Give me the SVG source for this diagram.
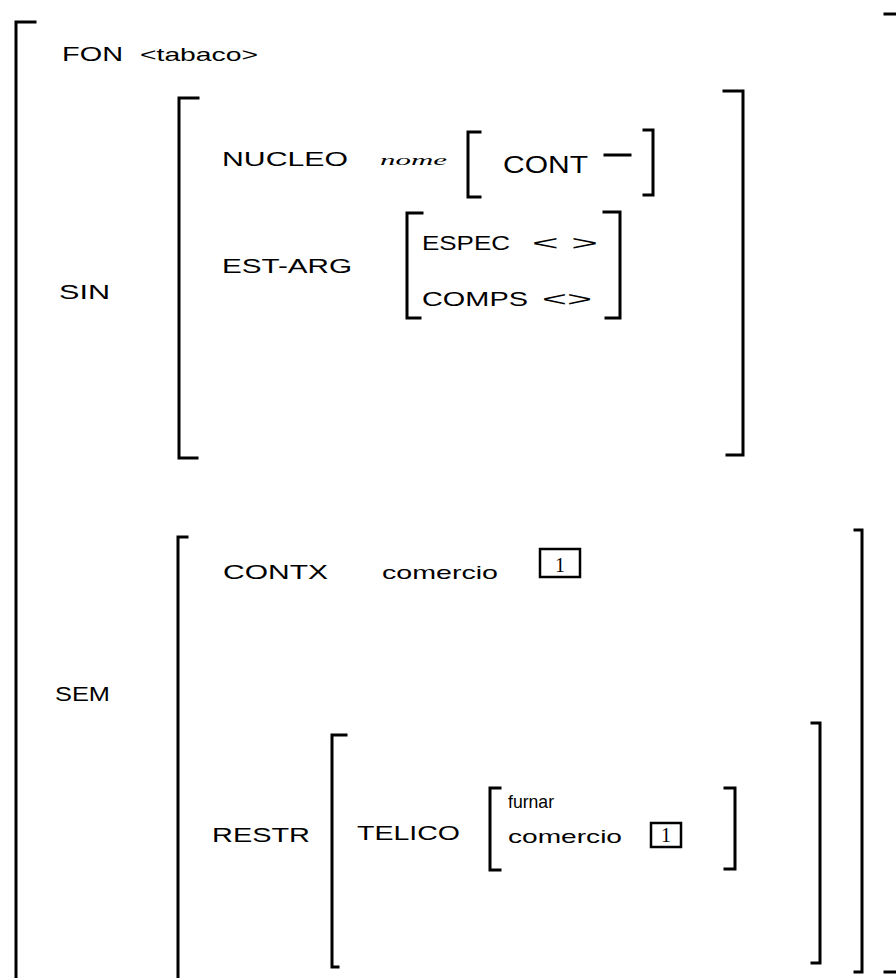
<svg xmlns="http://www.w3.org/2000/svg" width="896" height="978" viewBox="0 0 896 978">
<style>
.b{fill:none;stroke:#000;stroke-width:3;stroke-linecap:square}
.t{font-family:"Liberation Sans",Arial,sans-serif;font-size:21px;fill:#000}
.s{font-family:"Liberation Sans",Arial,sans-serif;font-size:19px;fill:#000}
.i{font-family:"Liberation Serif","Times New Roman",serif;font-style:italic;font-size:15px;fill:#000}
.n{font-family:"Liberation Serif","Times New Roman",serif;font-size:20px;fill:#000}
.box{fill:none;stroke:#000;stroke-width:2.5}
</style>
<rect width="896" height="978" fill="#fff"/>
<g id="outer">
<path class="b" d="M35 22H16V978"/>
<path class="b" d="M885 14H896"/>
<path class="b" d="M885 972H896"/>
</g>
<g id="fon">
<text class="t" x="62" y="61" textLength="61" lengthAdjust="spacingAndGlyphs">FON</text>
<text class="s" x="140" y="61" textLength="118" lengthAdjust="spacingAndGlyphs">&lt;tabaco&gt;</text>
</g>
<g id="sin">
<text class="t" x="59" y="299" textLength="51" lengthAdjust="spacingAndGlyphs">SIN</text>
<path class="b" d="M198 98H179V458H197"/>
<path class="b" d="M724 91H743V455H727"/>
</g>
<g id="nucleo">
<text class="t" x="222" y="166" textLength="126" lengthAdjust="spacingAndGlyphs">NUCLEO</text>
<text class="i" x="380" y="165" textLength="67" lengthAdjust="spacingAndGlyphs">nome</text>
<path class="b" d="M480 132H468V197H480"/>
<text class="t" x="503" y="173" style="font-size:24px" textLength="85" lengthAdjust="spacingAndGlyphs">CONT</text>
<path class="b" d="M605 155H630"/>
<path class="b" d="M644 130H653V195H644"/>
</g>
<g id="est-arg">
<text class="t" x="222" y="273" textLength="130" lengthAdjust="spacingAndGlyphs">EST-ARG</text>
<path class="b" d="M422 213H407V318H420"/>
<path class="b" d="M604 212H620V318H606"/>
<text class="t" x="422" y="250" textLength="88" lengthAdjust="spacingAndGlyphs">ESPEC</text>
<text class="t" x="532" y="250" textLength="66" lengthAdjust="spacingAndGlyphs">&lt; &gt;</text>
<text class="t" x="422" y="306" textLength="106" lengthAdjust="spacingAndGlyphs">COMPS</text>
<text class="t" x="542" y="306" textLength="50" lengthAdjust="spacingAndGlyphs">&lt;&gt;</text>
</g>
<g id="sem">
<text class="t" x="55" y="701" textLength="55" lengthAdjust="spacingAndGlyphs">SEM</text>
<path class="b" d="M187 537H178V978"/>
<path class="b" d="M855 530H862V972H855"/>
</g>
<g id="contx">
<text class="t" x="223" y="579" textLength="105" lengthAdjust="spacingAndGlyphs">CONTX</text>
<text class="s" x="382" y="579" textLength="116" lengthAdjust="spacingAndGlyphs">comercio</text>
<rect class="box" x="540" y="549" width="40" height="28"/>
<text class="n" x="555" y="572">1</text>
</g>
<g id="restr">
<text class="t" x="212" y="842" textLength="98" lengthAdjust="spacingAndGlyphs">RESTR</text>
<path class="b" d="M346 735H332V967H338"/>
<path class="b" d="M812 723H820V963H812"/>
</g>
<g id="telico">
<text class="t" x="357" y="840" textLength="103" lengthAdjust="spacingAndGlyphs">TELICO</text>
<path class="b" d="M500 788H490V870H500"/>
<text class="s" x="508" y="808" textLength="46" lengthAdjust="spacingAndGlyphs">furnar</text>
<text class="s" x="508" y="843" textLength="114" lengthAdjust="spacingAndGlyphs">comercio</text>
<rect class="box" x="651" y="823" width="30" height="24"/>
<text class="n" x="661" y="842">1</text>
<path class="b" d="M725 788H735V869H725"/>
</g>
</svg>
